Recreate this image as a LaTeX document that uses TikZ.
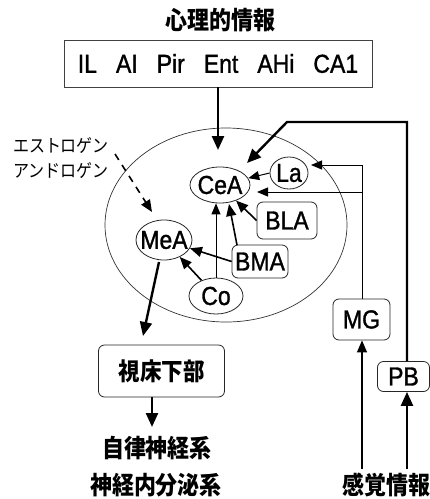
\documentclass[tikz,border=0pt]{standalone}
\usepackage{fontspec}
\setmainfont{Liberation Sans}
\newfontfamily\labf[FakeBold=1.3]{Liberation Sans}
\newfontfamily\jp{Noto Sans CJK JP}
\usetikzlibrary{shapes.geometric,arrows.meta}
\newcommand\vs[1]{\scalebox{1}[1.13]{#1}}
\tikzset{
  lab/.style={font=\labf\fontsize{23}{23}\selectfont, inner sep=0pt},
  every label/.style={font=\labf\fontsize{23}{23}\selectfont, inner sep=0pt},
  ell/.style={ellipse, draw=black!85, line width=0.8pt, inner sep=0pt, lab},
  rbox/.style={rectangle, rounded corners=6pt, draw=black!85, line width=0.8pt, inner sep=0pt, lab},
  jptext/.style={font=\jp\bfseries\fontsize{22}{22}\selectfont, inner sep=0pt},
  big/.style={line width=2.4pt, -{Triangle[length=14pt,width=12pt]}},
  mid/.style={line width=1.6pt, -{Triangle[length=12pt,width=10pt]}},
  slim/.style={line width=1pt, -{Triangle[length=11pt,width=9pt]}},
}
\begin{document}
\begin{tikzpicture}[x=1pt,y=-1pt]
\useasboundingbox (0,0) rectangle (430,499);

% title and source box
\node[jptext] (title) at (220,20) {\vs{心理的情報}};
\node[rectangle, draw=black!75, line width=0.8pt, minimum width=308pt, minimum height=47pt, lab]
  (src) at (218,63.5) {\vs{IL\hspace{19pt}AI\hspace{19pt}Pir\hspace{19pt}Ent\hspace{19pt}AHi\hspace{19pt}CA1}};

% amygdala
\node[ellipse, draw=black!80, line width=0.7pt, inner sep=0pt, minimum width=242pt, minimum height=194pt] (amy) at (226,225) {};
\node[ell, minimum width=60pt, minimum height=36pt, label=center:{\vs{CeA}}] (CeA) at (220,185) {};
\node[ell, minimum width=38pt, minimum height=32pt, label=center:{\vs{La}}] (La) at (289,173) {};
\node[rbox, minimum width=60pt, minimum height=37pt] (BLA) at (287,220.5) {\vs{BLA}};
\node[ell, minimum width=56pt, minimum height=40pt, label=center:{\vs{MeA}}] (MeA) at (164,240) {};
\node[rbox, minimum width=56pt, minimum height=33pt] (BMA) at (260,261.5) {\vs{BMA}};
\node[ell, minimum width=54pt, minimum height=36pt, label=center:{\vs{Co}}] (Co) at (216,296) {};

% right side
\node[rbox, minimum width=57pt, minimum height=41pt] (MG) at (361.5,319.5) {\vs{MG}};
\node[rbox, minimum width=52pt, minimum height=30pt] (PB) at (403.5,376.5) {\vs{PB}};
\node[jptext] (sense) at (386,485) {\vs{感覚情報}};

% hypothalamus and outputs
\node[rbox, minimum width=126pt, minimum height=52pt, font=\jp\bfseries\fontsize{21.5}{21.5}\selectfont] (hyp) at (161.5,371) {\vs{視床下部}};
\node[jptext] (ans) at (157,448) {\vs{自律神経系}};
\node[jptext] (neu) at (156,485) {\vs{神経内分泌系}};

% hormones
\node[font=\jp\fontsize{16}{16}\selectfont, inner sep=0pt] (estro) at (61,146) {\vs{エストロゲン}};
\node[font=\jp\fontsize{16}{16}\selectfont, inner sep=0pt] (andro) at (61,171) {\vs{アンドロゲン}};

% helper coordinates
\coordinate (ceaTop) at (218,150);
\coordinate (pbx) at (407,0);
\coordinate (c1) at (407,122);
\coordinate (c2) at (287,122);
\coordinate (ceaTR) at (247,163);
\coordinate (mgUp1) at (362,192);
\coordinate (mgUp2) at (362,165);
\coordinate (ceaR) at (257,192);
\coordinate (laR) at (311,165);
\coordinate (bmaTop) at (237,245);
\coordinate (ceaB) at (229,204);
\coordinate (meaOut) at (159,262);
\coordinate (hypIn) at (143,336);
\coordinate (hx) at (152,0);
\coordinate (ansIn) at (152,427);
\coordinate (dashS) at (115,154);
\coordinate (dashE) at (152,212);

% connectors
\draw[big] (src.south) -- (ceaTop);
\draw[big] (PB.north -| pbx) -- (c1) -- (c2) -- (ceaTR);
\draw[big] (sense.north -| pbx) ++(0,-4) -- (PB.south -| pbx);
\draw[line width=1.3pt, -{Triangle[length=12pt,width=10pt]}] (sense.north -| mgUp1) ++(0,-4) -- (MG.south -| mgUp1);
\draw[slim] (MG.north -| mgUp1) -- (mgUp1) -- (ceaR);
\draw[slim] (mgUp1) -- (mgUp2) -- (laR);
\draw[slim] (La.west) -- (CeA);
\draw[mid] (BLA.west) -- (CeA);
\draw[mid] (bmaTop) -- (ceaB);
\draw[slim] (Co.north) -- (Co.north |- CeA.south);
\draw[mid] (BMA.west) -- (MeA);
\draw[mid] (Co) -- (MeA);
\draw[big] (meaOut) -- (hypIn);
\draw[big] (hyp.south -| hx) -- (ansIn);
\draw[line width=1.6pt, dash pattern=on 7pt off 6pt, -{Triangle[length=12pt,width=10pt]}] (dashS) -- (dashE);
\end{tikzpicture}
\end{document}
